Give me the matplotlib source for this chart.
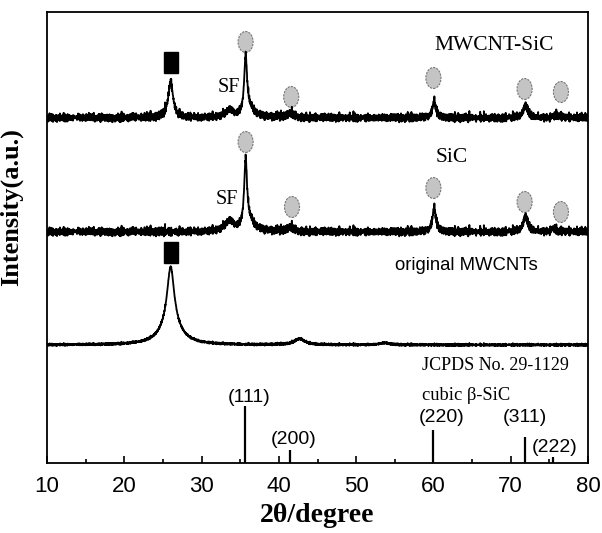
import numpy as np
import matplotlib.pyplot as plt
from matplotlib.patches import Ellipse, Rectangle

# peak tables: centre (deg), height, FWHM (deg)
mwcnt_sic_peaks = [(26.0, 36, 0.75), (33.6, 7, 1.2), (35.7, 58, 0.45), (36.3, 8, 1.6),
                   (41.5, 4, 1.0), (60.1, 16, 0.55), (71.9, 12, 0.7), (76.0, 3, 0.8)]
sic_peaks = [(33.6, 10, 1.4), (35.7, 68, 0.45), (36.3, 9, 1.6), (41.5, 4, 1.0),
             (60.1, 23, 0.55), (71.9, 15, 0.7), (75.6, 3, 0.8)]
mwcnt_peaks = [(26.0, 58, 1.1), (26.0, 20, 3.0), (42.7, 6, 1.6), (53.7, 2, 1.5)]
baselines = [345, 231, 118]
noise_amp = [4.5, 4.5, 1.3]

# hand-read jitter pattern for the noisy baselines
noise_a = [0.3, -0.8, 0.9, -0.2, 0.5, -1.0, 0.1, 0.7, -0.5, 0.2, -0.9, 1.8, -0.3, 1.0, -0.6, 0.4,
           -0.1, 0.8, -0.7, 0.0, 0.6, -0.4, 0.9, -0.9, 0.2, -0.2, 0.5, -0.6, 0.7, -0.1, 0.3, -0.8,
           1.0, -0.4, 0.1, -0.7, 0.8, -0.3, 0.4, -1.0, 0.6, 0.0, -0.5, 0.9, -0.2, 0.3, -0.8, 0.5,
           -0.6, 0.7, -0.1, 0.2, -0.9, 0.4, -0.3, 1.0, -0.7, 0.1, 0.6, -0.4, 0.8, -0.5, 0.2, -0.2,
           0.4, -0.6, 0.1, 1.6, -0.3, 0.5, -0.8, 0.2, 0.7, -0.4, -0.1]
noise_b = [0.5, -0.3, -0.7, 0.8, 0.1, -0.5, 0.9, -0.9, 0.3, 0.6, -0.2, -0.8, 0.4, 1.0, -0.4, 0.0,
           -0.6, 0.7, 0.2, -1.0, 0.5, -0.1, 0.8, -0.3, -0.7, 0.6, 0.1, -0.5, 0.9, -0.2, 0.4, -0.9,
           0.3, 0.7, -0.6, 0.0, -0.4, 1.5, -0.2, 0.1, -0.6]

# marker positions (deg, intensity)
squares = [(26.0, 401), (26.0, 211)]
circles = [(35.7, 421), (41.6, 366), (60.0, 385), (71.8, 374), (76.5, 371),
           (35.7, 321), (41.7, 256), (60.0, 275), (71.8, 261), (76.5, 251)]

# JCPDS 29-1129 sticks
stick_pos = [35.6, 41.4, 60.0, 71.8, 75.5]
stick_h = [57, 13, 33, 26, 6]
stick_labels = ['(111)', '(200)', '(220)', '(311)', '(222)']
stick_label_xy = [(36.2, 66), (41.9, 24), (61.0, 45), (71.8, 45), (75.7, 16)]

x = np.arange(10, 80.0001, 0.025)
n = np.resize(noise_a, len(x)) * 0.6 + np.resize(noise_b, len(x)) * 0.45


def trace(peaks, base, amp):
    y = np.full(len(x), float(base))
    for c, h, w in peaks:
        y += h / (1 + ((x - c) / (w / 2)) ** 2)
    return y + amp * n


fig = plt.figure(figsize=(6.02, 5.33), dpi=100)
ax = fig.add_axes([47 / 602, 70 / 533, 541 / 602, 451 / 533])

for peaks, b, a in zip([mwcnt_sic_peaks, sic_peaks, mwcnt_peaks], baselines, noise_amp):
    ax.plot(x, trace(peaks, b, a), color='black', lw=1.3)

for cx, cy in squares:
    ax.add_patch(Rectangle((cx - 0.9, cy - 10.5), 1.8, 21, facecolor='black', edgecolor='black'))
for cx, cy in circles:
    ax.add_patch(Ellipse((cx, cy), 1.95, 21, facecolor='#c4c4c4', edgecolor='#777777',
                         lw=0.8, ls=(0, (2, 1))))

ax.vlines(stick_pos, 0, stick_h, color='black', lw=1.6)
for lab, (lx, ly) in zip(stick_labels, stick_label_xy):
    ax.text(lx, ly, lab, ha='center', va='center', fontsize=14, family='Liberation Sans')

serif = 'Liberation Serif'
ax.text(67.9, 418, 'MWCNT-SiC', ha='center', va='center', fontsize=15.5, family=serif)
ax.text(62.4, 306, 'SiC', ha='center', va='center', fontsize=15.5, family=serif)
ax.text(33.5, 375, 'SF', ha='center', va='center', fontsize=14.5, family=serif)
ax.text(33.3, 263, 'SF', ha='center', va='center', fontsize=14.5, family=serif)
ax.text(64.3, 197, 'original MWCNTs', ha='center', va='center', fontsize=13.3, family='Liberation Sans')
ax.text(68.0, 98, 'JCPDS No. 29-1129', ha='center', va='center', fontsize=13, family=serif)
ax.text(58.5, 67, 'cubic β-SiC', ha='left', va='center', fontsize=13.3, family=serif)

ax.set_xlim(10, 80)
ax.set_ylim(0, 451)
ax.set_xticks(range(10, 81, 10))
ax.set_xticks(range(15, 80, 10), minor=True)
ax.set_yticks([])
ax.tick_params(axis='x', which='major', direction='in', length=5, width=1.2, labelsize=16, pad=9)
ax.tick_params(axis='x', which='minor', direction='in', length=3, width=1.2)
for lab in ax.get_xticklabels():
    lab.set_family('Liberation Sans')
for s in ax.spines.values():
    s.set_linewidth(1.3)

ax.set_xlabel('2θ/degree', fontsize=20, fontweight='bold', family=serif, labelpad=5)
ax.set_ylabel('Intensity(a.u.)', fontsize=19, fontweight='bold', family=serif)
ax.yaxis.set_label_coords(-0.045, 0.568)

fig.savefig('out.png', dpi=100)
